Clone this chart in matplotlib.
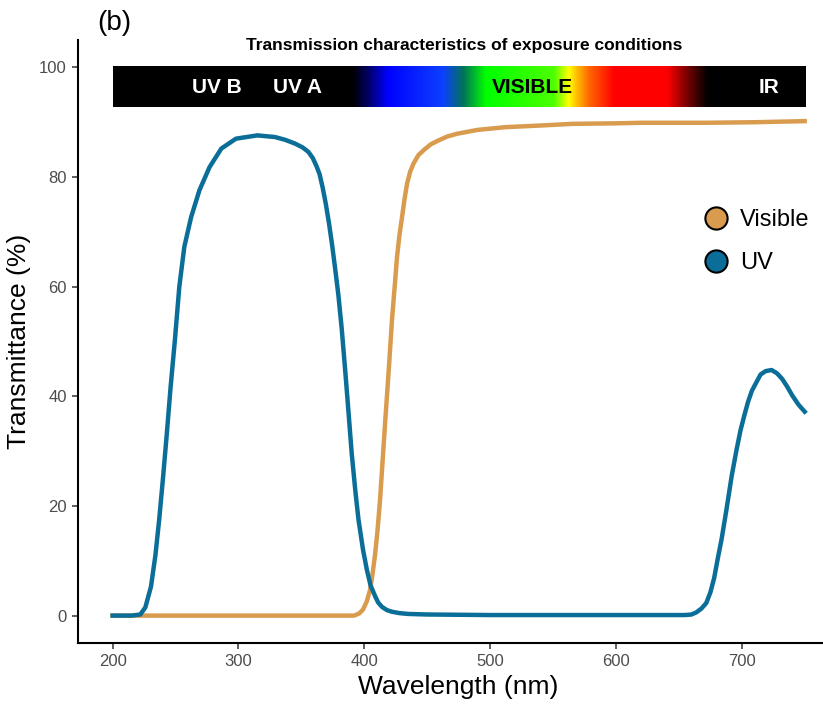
import numpy as np
import matplotlib
matplotlib.use('Agg')
import matplotlib.pyplot as plt
from matplotlib.lines import Line2D

plt.rcParams['font.family'] = ['Liberation Sans', 'DejaVu Sans']

# transmittance spectra (%)
uv_wl = [200, 215, 222, 226, 230.5, 234, 237, 240, 243, 246, 249.5, 253, 257, 262.4, 269,
         277, 286.4, 298, 315, 329, 337, 345, 351, 355.5, 359, 362, 364.5, 367, 369.5, 372,
         374.5, 377, 379.4, 382, 384.8, 387.5, 390, 393, 395.4, 399, 402, 405, 408.7, 411,
         414, 418, 422, 428, 435, 450, 500, 600, 655, 660, 664, 668, 671.8, 675, 678, 681,
         684, 687.8, 692, 695.8, 699, 702, 705, 708, 711.7, 715, 719, 723.7, 728, 732, 736,
         740, 745, 750]
uv_t = [0, 0, 0.2, 1.5, 5.3, 11, 17.5, 25, 33, 41.5, 50.3, 60, 67.3, 72.7, 77.6,
        81.8, 85.2, 87, 87.6, 87.3, 86.8, 86.1, 85.4, 84.6, 83.5, 82, 80.5, 78, 75, 71.5,
        67.5, 63, 58.5, 52.5, 44.8, 37, 29.6, 22.5, 17.5, 12, 8.4, 5.5, 3.5, 2.4,
        1.6, 1.0, 0.7, 0.45, 0.3, 0.2, 0.1, 0.1, 0.1, 0.2, 0.6, 1.3, 2.3, 4.2, 6.8, 10.5,
        14, 19.3, 25.5, 30.2, 33.8, 36.5, 39, 41, 42.6, 44, 44.6, 44.8, 44.2, 43.2, 41.8,
        40.2, 38.5, 37.2]

vis_wl = [200, 392, 396, 399, 402, 404.5, 406.5, 408.5, 410.5, 412.5, 414.5, 416.7, 419.5,
          422, 424.5, 426, 428, 430, 432, 434, 436.5, 439.2, 443, 447.2, 453, 459.2, 466,
          473.8, 490, 512, 540, 565, 600, 620, 672, 710, 750]
vis_t = [0, 0, 0.4, 1.1, 2.6, 4.6, 7.5, 11, 15.5, 21, 28, 35.7, 45,
         53.9, 61, 65.4, 69.5, 72.7, 76, 78.8, 81, 82.5, 84, 84.9, 86, 86.7, 87.4,
         87.9, 88.6, 89.1, 89.4, 89.7, 89.8, 89.9, 89.9, 90.0, 90.2]

# colour stops of the spectrum strip
spec_wl = [200, 390, 404, 418, 462, 478, 496, 550, 562, 568, 578, 598, 640, 655, 672, 750]
spec_rgb = [(0, 0, 0), (0, 0, 0), (0, 0, 0.45), (0, 0, 1), (0.05, 0.25, 1), (0, 0.45, 0.35),
            (0, 1, 0), (0.3, 1, 0), (1, 1, 0), (1, 0.75, 0), (1, 0.4, 0), (1, 0, 0),
            (1, 0, 0), (0.5, 0, 0), (0, 0, 0), (0, 0, 0)]

band_labels = ['UV B', 'UV A', 'VISIBLE', 'IR']
band_x = [283, 347, 534, 722]
band_colors = ['white', 'white', 'black', 'white']

c_uv = '#0B6E98'
c_vis = '#D99B4E'

fig = plt.figure(figsize=(8.23, 7.08), dpi=100)
ax = fig.add_axes([0.0948, 0.0918, 0.925, 0.8517])

# spectrum strip
grid = np.linspace(200, 750, 1101)
rgb = np.array(spec_rgb)
strip = np.stack([np.interp(grid, spec_wl, rgb[:, k]) for k in range(3)], axis=-1)
ax.imshow(strip[np.newaxis, :, :], extent=[200, 750, 92.7, 100], aspect='auto',
          interpolation='bilinear', zorder=1)
for lab, xx, cc in zip(band_labels, band_x, band_colors):
    ax.text(xx, 96.3, lab, color=cc, fontsize=15, fontweight='bold',
            ha='center', va='center', zorder=2)
ax.text(479, 104, 'Transmission characteristics of exposure conditions',
        fontsize=12.5, fontweight='bold', ha='center', va='center')

ax.plot(vis_wl, vis_t, color=c_vis, lw=3.2, zorder=3)
ax.plot(uv_wl, uv_t, color=c_uv, lw=3.2, zorder=4)

ax.set_xlim(172.5, 777.5)
ax.set_ylim(-5, 105)
ax.set_xticks([200, 300, 400, 500, 600, 700])
ax.set_yticks([0, 20, 40, 60, 80, 100])
ax.set_xlabel('Wavelength (nm)', fontsize=19, labelpad=4)
ax.set_ylabel('Transmittance (%)', fontsize=19, labelpad=6)
ax.tick_params(labelsize=12, colors='#333333', labelcolor='#4D4D4D', length=4.5, width=1.1)

for s in ['top', 'right']:
    ax.spines[s].set_visible(False)
for s in ['left', 'bottom']:
    ax.spines[s].set_linewidth(1.5)

handles = [Line2D([], [], ls='none', marker='o', markersize=16, markerfacecolor=c_vis,
                  markeredgecolor='black', markeredgewidth=1.5),
           Line2D([], [], ls='none', marker='o', markersize=16, markerfacecolor=c_uv,
                  markeredgecolor='black', markeredgewidth=1.5)]
fig.legend(handles, ['Visible', 'UV'], loc='center left', bbox_to_anchor=(0.8436, 0.659),
           frameon=False, fontsize=17, handlelength=1.0, handletextpad=0.55,
           labelspacing=0.9, borderaxespad=0)

fig.text(97 / 823, 1 - 23 / 708, '(b)', fontsize=20, ha='left', va='center')

fig.savefig('out.png', dpi=100)
